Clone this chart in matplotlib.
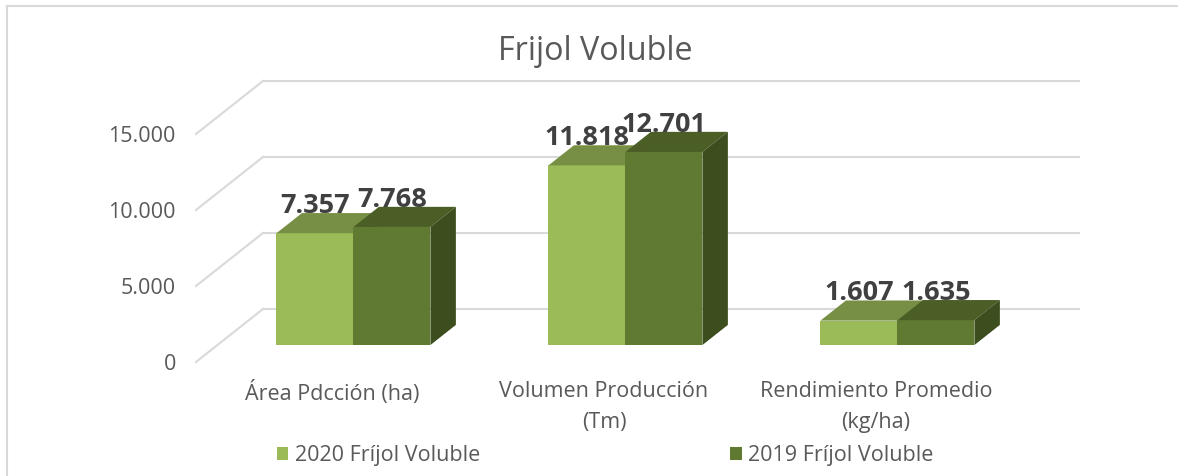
import matplotlib
matplotlib.use("Agg")
import matplotlib.pyplot as plt
from matplotlib.lines import Line2D
from matplotlib.patches import Patch

# ---- data -------------------------------------------------------------
categories = ["Área Pdcción (ha)", "Volumen Producción\n(Tm)", "Rendimiento Promedio\n(kg/ha)"]
series_names = ["2020 Fríjol Voluble", "2019 Fríjol Voluble"]
values_2020 = [7357, 11818, 1607]
values_2019 = [7768, 12701, 1635]
y_ticks = [0, 5000, 10000, 15000]
title = "Frijol Voluble"

# ---- styling ----------------------------------------------------------
plt.rcParams["font.family"] = ["Open Sans", "DejaVu Sans"]
TEXT = "#595959"
LABEL = "#404040"
GRID = "#D9D9D9"
# (front, top, side) shades for each series
SHADES = [("#9BBB59", "#778F44", "#5E7232"),
          ("#617A31", "#4A5E26", "#3C4D1E")]

# pseudo-3D depth: full floor depth as an offset in (category, value) units
DX = 67 / 272
DY = 53 / 15.2 * 1000
Z_FRONT, Z_BACK = 0.32, 0.70
BAR_W = 0.283


def fmt(v):
    return f"{v:,}".replace(",", ".")


W, H = 1178, 476
fig = plt.figure(figsize=(W / 100, H / 100), dpi=100)
fig.patch.set_facecolor("white")
ax = fig.add_axes([196 / W, (H - 362) / H, 816 / W, 228 / H])
ax.set_xlim(-0.5, 2.5)
ax.set_ylim(0, 15000)
ax.patch.set_visible(False)
for s in ax.spines.values():
    s.set_visible(False)

ax.set_yticks(y_ticks, labels=[fmt(v) for v in y_ticks])
ax.tick_params(axis="y", length=0, pad=14.5, labelsize=15.5, labelcolor=TEXT)
ax.set_xticks(range(len(categories)), labels=categories)
ax.tick_params(axis="x", length=0, pad=14, labelsize=15.5, labelcolor=TEXT)
for t in ax.get_xticklabels():
    t.set_linespacing(1.6)

# back wall and side wall gridlines
x0, x1 = -0.5, 2.5
for v in y_ticks:
    ax.add_line(Line2D([x0 + DX, x1 + DX], [v + DY, v + DY], color=GRID,
                       lw=1.5, zorder=1, clip_on=False))
    ax.add_line(Line2D([x0, x0 + DX], [v, v + DY], color=GRID,
                       lw=1.5, zorder=1, clip_on=False))

fx, fy = Z_FRONT * DX, Z_FRONT * DY
bx, by = Z_BACK * DX, Z_BACK * DY
dz_x, dz_y = bx - fx, by - fy

series = [values_2020, values_2019]
offsets = [-BAR_W / 2, BAR_W / 2]
z = 2
for i in range(len(categories)):
    for s, vals in enumerate(series):
        v = vals[i]
        front, top, side = SHADES[s]
        xc = i + offsets[s] + fx
        left, right = xc - BAR_W / 2, xc + BAR_W / 2
        ax.bar(xc, v, width=BAR_W, bottom=fy, color=front, zorder=z,
               clip_on=False, linewidth=0)
        ytop = v + fy
        ax.fill([left, right, right + dz_x, left + dz_x],
                [ytop, ytop, ytop + dz_y, ytop + dz_y],
                color=top, zorder=z, clip_on=False, linewidth=0)
        ax.fill([right, right + dz_x, right + dz_x, right],
                [fy, fy + dz_y, ytop + dz_y, ytop],
                color=side, zorder=z, clip_on=False, linewidth=0)
        ax.text(xc, v + by, fmt(v), ha="center", va="baseline",
                fontsize=19.5, fontweight="bold", color=LABEL, zorder=20)
        z += 1

fig.text(595.5 / W, 1 - 51 / H, title, ha="center", va="center",
         fontsize=23.3, color=TEXT)

handles = [Patch(facecolor=SHADES[k][0], edgecolor="none") for k in range(2)]
fig.legend(handles, series_names, loc="center", bbox_to_anchor=(605 / W, 1 - 456 / H),
           ncol=2, frameon=False, fontsize=15.5, labelcolor=TEXT,
           handlelength=0.55, handleheight=0.55, handletextpad=0.3,
           columnspacing=11.6, borderpad=0)

# chart area outline (top and left edges)
fig.add_artist(Line2D([7 / W, 1], [1 - 6 / H, 1 - 6 / H], color=GRID, lw=1.5,
                      transform=fig.transFigure))
fig.add_artist(Line2D([7 / W, 7 / W], [0, 1 - 6 / H], color=GRID, lw=1.5,
                      transform=fig.transFigure))

fig.savefig("out.png", dpi=100)
